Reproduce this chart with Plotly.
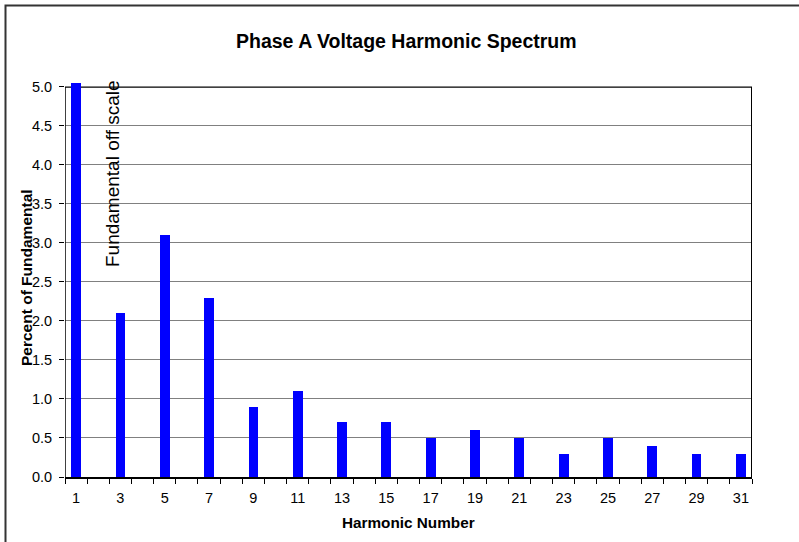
import plotly.graph_objects as go

# Harmonic spectrum data (percent of fundamental)
harmonics = [1, 3, 5, 7, 9, 11, 13, 15, 17, 19, 21, 23, 25, 27, 29, 31]
percent = [5.05, 2.1, 3.1, 2.3, 0.9, 1.1, 0.7, 0.7, 0.5, 0.6, 0.5, 0.3, 0.5, 0.4, 0.3, 0.3]
tick_labels = [str(h) for h in harmonics]

Y_MAX = 5.0        # top of the value scale
Y_HEADROOM = 5.05  # room above the scale for the off-scale fundamental

W, H = 799, 542
L, R, T, B = 65, 47, 83, 65
PW, PH = W - L - R, H - T - B


def px_x(px):
    return (px - L) / PW


def px_y(py):
    return (H - B - py) / PH


FONT = "Liberation Sans, Arial, sans-serif"

fig = go.Figure(
    go.Bar(
        x=harmonics,
        y=percent,
        width=0.44,
        marker=dict(color="#0000FF", line=dict(width=0)),
        hoverinfo="x+y",
    )
)

fig.update_layout(
    width=W,
    height=H,
    margin=dict(l=L, r=R, t=T, b=B),
    paper_bgcolor="white",
    plot_bgcolor="white",
    showlegend=False,
    font=dict(family=FONT, size=14, color="black"),
    bargap=0,
)

fig.update_xaxes(
    range=[0.5, 31.5],
    tickmode="array",
    tickvals=harmonics,
    ticktext=tick_labels,
    ticks="",
    ticklabelstandoff=7,
    tickfont=dict(family=FONT, size=14.5, color="black"),
    showgrid=False,
    zeroline=False,
    showline=True,
    linecolor="black",
    linewidth=2,
    minor=dict(tick0=0.5, dtick=1, ticks="outside", ticklen=5, tickwidth=1,
               tickcolor="black", showgrid=False),
)

fig.update_yaxes(
    range=[0, Y_HEADROOM],
    tickmode="array",
    tickvals=[i * 0.5 for i in range(11)],
    tickformat=".1f",
    ticks="outside",
    ticklen=5,
    tickcolor="black",
    ticklabelstandoff=4,
    tickfont=dict(family=FONT, size=14.5, color="black"),
    showgrid=True,
    gridcolor="#808080",
    gridwidth=1,
    zeroline=False,
    showline=False,
)

# Plot-area frame drawn up to the top of the scale
frame = dict(color="black", width=1.5)
fig.add_shape(type="line", xref="x", yref="y", x0=0.5, x1=0.5, y0=0, y1=Y_MAX,
              line=frame, layer="above")
fig.add_shape(type="line", xref="x", yref="y", x0=31.5, x1=31.5, y0=0, y1=Y_MAX,
              line=dict(color="black", width=2), layer="above")
fig.add_shape(type="line", xref="x", yref="y", x0=0.5, x1=31.5, y0=Y_MAX, y1=Y_MAX,
              line=frame, layer="below")

annotations = [
    dict(text="<b>Phase A Voltage Harmonic Spectrum</b>", x=px_x(406), y=px_y(41),
         xref="paper", yref="paper", showarrow=False, xanchor="center", yanchor="middle",
         font=dict(family=FONT, size=19.5, color="black")),
    dict(text="<b>Harmonic Number</b>", x=px_x(408), y=px_y(522),
         xref="paper", yref="paper", showarrow=False, xanchor="center", yanchor="middle",
         font=dict(family=FONT, size=15.3, color="black")),
    dict(text="<b>Percent of Fundamental</b>", x=px_x(26), y=px_y(278),
         xref="paper", yref="paper", showarrow=False, textangle=-90,
         xanchor="center", yanchor="middle",
         font=dict(family=FONT, size=15.5, color="black")),
    dict(text="Fundamental off scale", x=px_x(112), y=px_y(174),
         xref="paper", yref="paper", showarrow=False, textangle=-90,
         xanchor="center", yanchor="middle",
         font=dict(family=FONT, size=19, color="black")),
]
fig.update_layout(annotations=annotations)

# Outer chart frame (extends past the right and bottom edges)
fig.add_shape(type="rect", xref="paper", yref="paper",
              x0=px_x(5.5), x1=px_x(810), y0=px_y(5.5), y1=px_y(560),
              line=dict(color="#333333", width=2), fillcolor="rgba(0,0,0,0)",
              layer="above")

fig.write_html("out.html")
